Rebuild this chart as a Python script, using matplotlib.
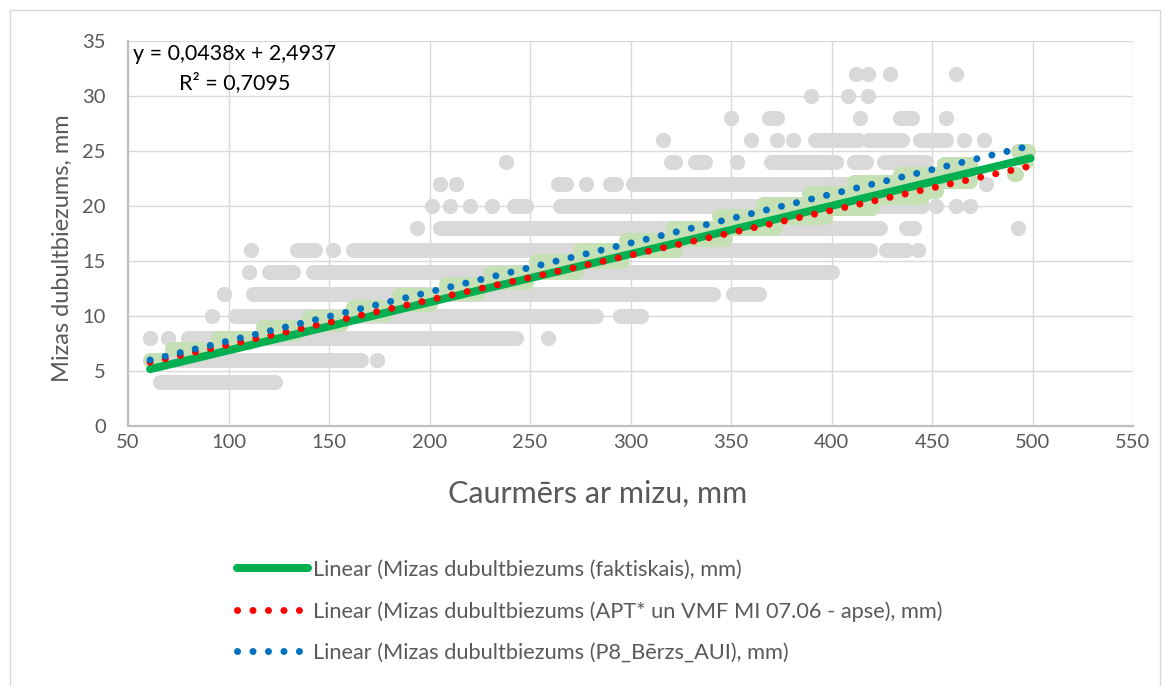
import matplotlib
matplotlib.use("Agg")
import matplotlib.pyplot as plt
from matplotlib.lines import Line2D
from matplotlib.patches import Rectangle

W, H, DPI = 1169, 686, 100

FONT = ["Lato", "DejaVu Sans"]
TXT = "#595959"
GRID = "#D9D9D9"
GREY = "#D9D9D9"
LIGHT_GREEN = "#C5E0B4"
GREEN = "#00B050"
RED = "#FF0000"
BLUE = "#0070C0"

# ---- axes --------------------------------------------------------------
x_ticks = [50, 100, 150, 200, 250, 300, 350, 400, 450, 500, 550]
y_ticks = [0, 5, 10, 15, 20, 25, 30, 35]

# ---- measured double bark thickness (mm) by stem diameter (mm) ----------
# each entry is (first diameter, last diameter) of a run of trees measured
# at that bark level; single trees have equal ends
bark_levels = [4, 6, 8, 10, 12, 14, 16, 18, 20, 22, 24, 26, 28, 30, 32]
runs_4 = [(66, 123)]
runs_6 = [(65, 166), (174, 174)]
runs_8 = [(61, 61), (70, 70), (80, 243), (259, 259)]
runs_10 = [(92, 92), (103, 283), (295, 305)]
runs_12 = [(98, 98), (112, 341), (351, 364)]
runs_14 = [(110, 110), (120, 132), (142, 400)]
runs_16 = [(111, 111), (134, 143), (152, 152), (162, 419), (427, 437), (443, 443)]
runs_18 = [(194, 194), (205, 424), (437, 441), (493, 493)]
runs_20 = [(201, 201), (210, 210), (220, 220), (231, 231), (242, 248),
           (265, 445), (452, 452), (462, 462), (469, 469)]
runs_22 = [(205, 205), (213, 213), (264, 268), (278, 278), (290, 293),
           (301, 410), (424, 450), (477, 477)]
runs_24 = [(238, 238), (320, 322), (332, 337), (353, 353), (370, 402),
           (411, 417), (426, 447)]
runs_26 = [(316, 316), (360, 360), (373, 373), (381, 381), (392, 413),
           (418, 435), (444, 457), (466, 466), (476, 476)]
runs_28 = [(350, 350), (369, 373), (414, 414), (434, 440), (457, 457)]
runs_30 = [(390, 390), (408, 408), (418, 418)]
runs_32 = [(412, 412), (418, 418), (429, 429), (462, 462)]
bark_runs = [runs_4, runs_6, runs_8, runs_10, runs_12, runs_14, runs_16,
             runs_18, runs_20, runs_22, runs_24, runs_26, runs_28, runs_30,
             runs_32]

# ---- APT* / VMF MI 07.06 bark values: diameter steps ---------------------
apt_x0 = [61, 72, 95, 117, 140, 162, 185, 208, 230, 253, 275, 298, 321,
          344, 366, 389, 411, 434, 456, 491, 493, 497]
apt_x1 = [66, 87, 110, 133, 156, 178, 200, 224, 248, 273, 296, 322, 347,
          372, 397, 420, 445, 452, 469, 492, 498, 497]
apt_ylo = [6.0, 7.0, 7.6, 8.4, 9.3, 10.2, 11.1, 12.1, 13.1, 14.0, 15.0,
           16.0, 17.0, 18.0, 19.0, 19.8, 20.8, 21.4, 22.3, 22.9, 25.0, 24.1]
apt_yhi = [6.0, 7.0, 8.0, 9.0, 9.9, 10.8, 11.9, 12.9, 13.9, 15.0, 16.0,
           16.9, 18.0, 19.1, 20.2, 21.2, 22.2, 22.9, 23.8, 22.9, 25.0, 24.1]

# ---- linear trends -------------------------------------------------------
trend_labels = [
    "Linear (Mizas dubultbiezums (faktiskais), mm)",
    "Linear (Mizas dubultbiezums (APT* un VMF MI 07.06 - apse), mm)",
    "Linear (Mizas dubultbiezums (P8_Bērzs_AUI), mm)",
]
trend_slope = [0.0438, 0.0407, 0.04447]
trend_icept = [2.4937, 3.32, 3.29]
trend_xmin = [61, 61, 61]
trend_xmax = [499, 497, 495]
r_squared = "0,7095"

# ---- figure --------------------------------------------------------------
px = 72.0 / DPI            # points per pixel
MARK = 15 * px             # marker diameter in points

fig = plt.figure(figsize=(W / DPI, H / DPI), dpi=DPI)
fig.patch.set_facecolor("white")
ax = fig.add_axes([128 / W, 1 - 426 / H, (1133 - 128) / W, (426 - 41) / H])
ax.set_xlim(50, 550)
ax.set_ylim(0, 35)
ax.set_xticks(x_ticks)
ax.set_yticks(y_ticks)
ax.grid(True, color=GRID, lw=1.4 * px, zorder=0)
ax.set_axisbelow(True)
for side in ("top", "right"):
    ax.spines[side].set_visible(False)
for side in ("left", "bottom"):
    ax.spines[side].set_color("#BFBFBF")
    ax.spines[side].set_linewidth(1.6)
ax.tick_params(length=0, colors=TXT, labelsize=14.5)
ax.tick_params(axis="y", pad=16)
ax.tick_params(axis="x", pad=6)
for lab in ax.get_xticklabels() + ax.get_yticklabels():
    lab.set_family(FONT)

# measured trees
for lvl, runs in zip(bark_levels, bark_runs):
    for a, b in runs:
        ax.plot([a, b], [lvl, lvl], color=GREY, lw=MARK,
                solid_capstyle="butt", marker="o", ms=MARK, mew=0,
                mfc=GREY, zorder=2)

# APT* values
for a, b, lo, hi in zip(apt_x0, apt_x1, apt_ylo, apt_yhi):
    for yv in sorted({lo, hi}):
        ax.plot([a, b], [yv, yv], color=LIGHT_GREEN, lw=MARK,
                solid_capstyle="butt", marker="o", ms=MARK, mew=0,
                mfc=LIGHT_GREEN, zorder=3)
    if hi > lo:
        ax.fill_between([a, b], lo, hi, color=LIGHT_GREEN, lw=0, zorder=3)

# trend lines
styles = [
    dict(color=GREEN, lw=8 * px, solid_capstyle="round", ls="-"),
    dict(color=RED, lw=7 * px, dash_capstyle="round", ls=(0, (0.01, 2.2))),
    dict(color=BLUE, lw=7 * px, dash_capstyle="round", ls=(0, (0.01, 2.2))),
]
handles = []
for k in range(3):
    xs = [trend_xmin[k], trend_xmax[k]]
    ys = [trend_slope[k] * v + trend_icept[k] for v in xs]
    ax.plot(xs, ys, zorder=4 + k, **styles[k])
    handles.append(Line2D([], [], **styles[k]))

# regression equation of the measured data
eq_x = (235 - 128) / (1133 - 128)
ax.text(eq_x, (426 - 54) / (426 - 41),
        f"y = {trend_slope[0]:.4f}x + {trend_icept[0]:.4f}".replace(".", ","),
        transform=ax.transAxes, ha="center", va="center", fontsize=15.5,
        family=FONT, color="black", zorder=8)
ax.text(eq_x, (426 - 83) / (426 - 41), f"R² = {r_squared}",
        transform=ax.transAxes, ha="center", va="center",
        fontsize=15.5, family=FONT, color="black", zorder=8)

# axis titles
fig.text(598 / W, 1 - 494 / H, "Caurmērs ar mizu, mm", ha="center",
         va="center", fontsize=22, family=FONT, color=TXT)
fig.text(62 / W, 1 - 248 / H, "Mizas dubultbiezums, mm", ha="center",
         va="center", rotation=90, fontsize=17, family=FONT, color=TXT)

# legend
leg = fig.legend(handles, trend_labels, loc="upper left",
                 bbox_to_anchor=(237 / W, 1 - 560 / H), frameon=False,
                 borderpad=0, borderaxespad=0, handlelength=3.25,
                 handletextpad=0.25, labelspacing=0.96,
                 prop=dict(family=FONT, size=15.7))
for t in leg.get_texts():
    t.set_color(TXT)

# chart border
fig.patches.append(Rectangle((10 / W, -0.05), (1160 - 10) / W,
                             1 - 10 / H + 0.05, transform=fig.transFigure,
                             fill=False, ec=GRID, lw=1.0))

fig.savefig("out.png", dpi=DPI)
